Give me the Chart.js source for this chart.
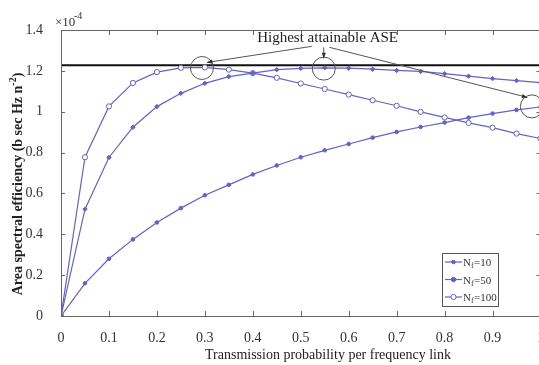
<!DOCTYPE html>
<html>
<head>
<meta charset="utf-8">
<script src="https://cdn.jsdelivr.net/npm/chart.js@4.4.1/dist/chart.umd.min.js"></script>
<style>
  html, body { margin: 0; padding: 0; overflow: hidden; background: #fff; }
  #wrap { width: 550px; height: 365px; }
</style>
</head>
<body>
<div id="wrap"><canvas id="aseChart" width="550" height="365"></canvas></div>
<script>
// Transmission probability (x) and area spectral efficiency (x1e-4) per series
const probs = [0, 0.05, 0.1, 0.15, 0.2, 0.25, 0.3, 0.35, 0.4, 0.45, 0.5,
               0.55, 0.6, 0.65, 0.7, 0.75, 0.8, 0.85, 0.9, 0.95, 1];
const nf10 = [0, 0.16, 0.28, 0.375, 0.458, 0.528, 0.591, 0.642, 0.693, 0.737, 0.777,
              0.811, 0.842, 0.873, 0.901, 0.925, 0.947, 0.971, 0.991, 1.009, 1.023];
const nf50 = [0, 0.523, 0.776, 0.924, 1.025, 1.09, 1.139, 1.172, 1.189, 1.206, 1.212,
              1.215, 1.213, 1.208, 1.202, 1.197, 1.186, 1.174, 1.162, 1.152, 1.142];
const nf100 = [0, 0.777, 1.026, 1.141, 1.194, 1.215, 1.217, 1.206, 1.189, 1.166, 1.138,
               1.111, 1.084, 1.056, 1.029, 0.999, 0.972, 0.945, 0.922, 0.893, 0.869];
const seriesLabels = ['10', '50', '100'];
const highestASE = 1.227;
const xTicks = [0, 0.1, 0.2, 0.3, 0.4, 0.5, 0.6, 0.7, 0.8, 0.9, 1];
const yTicks = [0, 0.2, 0.4, 0.6, 0.8, 1, 1.2, 1.4];

// annotation marks, in data units
const circles = [[0.294, 1.214], [0.548, 1.211], [0.982, 1.026]];
const arrows = [[0.523, 1.320, 0.304, 1.241], [0.548, 1.315, 0.548, 1.261], [0.560, 1.315, 0.973, 1.070]];
const noteAt = [0.556, 1.359];

const blue = '#6262c8';
const serif = '"Liberation Serif", "Times New Roman", serif';

function toPoints(ys) {
  return probs.map((p, i) => ({ x: p, y: ys[i] }));
}

const pointStyles = ['circle', 'rectRot', 'circle'];
const pointFills = [blue, blue, '#fff'];
const pointSizes = [1.8, 2.2, 2.6];

function fmt(v) {
  return String(Number(v.toFixed(1)));
}

const decorPlugin = {
  id: 'decor',
  afterDraw(chart) {
    const ctx = chart.ctx;
    const { left, right, top, bottom } = chart.chartArea;
    const xs = chart.scales.x, ys = chart.scales.y;
    ctx.save();

    // box + inward ticks
    ctx.strokeStyle = '#666';
    ctx.lineWidth = 1;
    ctx.strokeRect(left + 0.5, top + 0.5, right - left, bottom - top);
    ctx.beginPath();
    xTicks.forEach(t => {
      const px = Math.round(xs.getPixelForValue(t)) + 0.5;
      ctx.moveTo(px, bottom); ctx.lineTo(px, bottom - 5);
      ctx.moveTo(px, top); ctx.lineTo(px, top + 5);
    });
    yTicks.forEach(t => {
      const py = Math.round(ys.getPixelForValue(t)) + 0.5;
      ctx.moveTo(left, py); ctx.lineTo(left + 4, py);
      ctx.moveTo(right, py); ctx.lineTo(right - 4, py);
    });
    ctx.stroke();

    // circles around the peaks
    ctx.strokeStyle = '#555';
    circles.forEach(c => {
      ctx.beginPath();
      ctx.arc(xs.getPixelForValue(c[0]), ys.getPixelForValue(c[1]), 11.5, 0, Math.PI * 2);
      ctx.stroke();
    });

    // arrows
    ctx.fillStyle = '#333';
    arrows.forEach(a => {
      const x1 = xs.getPixelForValue(a[0]), y1 = ys.getPixelForValue(a[1]);
      const x2 = xs.getPixelForValue(a[2]), y2 = ys.getPixelForValue(a[3]);
      ctx.strokeStyle = '#555';
      ctx.beginPath();
      ctx.moveTo(x1, y1); ctx.lineTo(x2, y2);
      ctx.stroke();
      const ang = Math.atan2(y2 - y1, x2 - x1);
      ctx.beginPath();
      ctx.moveTo(x2, y2);
      ctx.lineTo(x2 - 6 * Math.cos(ang - 0.35), y2 - 6 * Math.sin(ang - 0.35));
      ctx.lineTo(x2 - 6 * Math.cos(ang + 0.35), y2 - 6 * Math.sin(ang + 0.35));
      ctx.closePath();
      ctx.fill();
    });

    // annotation text
    ctx.fillStyle = '#222';
    ctx.font = '15px ' + serif;
    ctx.textAlign = 'center';
    ctx.textBaseline = 'middle';
    ctx.fillText('Highest attainable ASE', xs.getPixelForValue(noteAt[0]), ys.getPixelForValue(noteAt[1]));

    // exponent label
    ctx.textAlign = 'left';
    ctx.textBaseline = 'alphabetic';
    ctx.fillStyle = '#333';
    ctx.font = '13px ' + serif;
    ctx.fillText('\u00d710', 55, 26);
    ctx.font = '10px ' + serif;
    ctx.fillText('-4', 74, 19);

    // x axis title
    ctx.fillStyle = '#222';
    ctx.font = '14px ' + serif;
    ctx.textAlign = 'center';
    ctx.textBaseline = 'middle';
    ctx.fillText('Transmission probability per frequency link', 328, 355);

    // y axis title, rotated, with superscript
    ctx.save();
    ctx.translate(17, 184);
    ctx.rotate(-Math.PI / 2);
    const main = 'Area spectral efficiency (b sec Hz n';
    ctx.font = 'bold 14px ' + serif;
    const w1 = ctx.measureText(main).width;
    ctx.font = 'bold 10px ' + serif;
    const w2 = ctx.measureText('-2').width;
    ctx.font = 'bold 14px ' + serif;
    const w3 = ctx.measureText(')').width;
    let x0 = -(w1 + w2 + w3) / 2;
    ctx.textAlign = 'left';
    ctx.textBaseline = 'alphabetic';
    ctx.fillText(main, x0, 5);
    ctx.font = 'bold 10px ' + serif;
    ctx.fillText('-2', x0 + w1, -1);
    ctx.font = 'bold 14px ' + serif;
    ctx.fillText(')', x0 + w1 + w2, 5);
    ctx.restore();

    // legend box
    const lx = 442, ly = 253, lw = 56, lh = 53;
    ctx.fillStyle = '#fff';
    ctx.fillRect(lx, ly, lw, lh);
    ctx.strokeStyle = '#555';
    ctx.strokeRect(lx + 0.5, ly + 0.5, lw, lh);
    seriesLabels.forEach((lab, i) => {
      const ry = 262 + i * 17.5;
      ctx.strokeStyle = blue;
      ctx.lineWidth = 1.2;
      ctx.beginPath();
      ctx.moveTo(445, ry); ctx.lineTo(462, ry);
      ctx.stroke();
      ctx.lineWidth = 1;
      ctx.fillStyle = pointFills[i];
      ctx.beginPath();
      ctx.arc(453.5, ry, pointSizes[i], 0, Math.PI * 2);
      ctx.fill();
      ctx.stroke();
      ctx.fillStyle = '#333';
      ctx.textAlign = 'left';
      ctx.textBaseline = 'alphabetic';
      ctx.font = '11px ' + serif;
      ctx.fillText('N', 463, ry + 4);
      const nw = ctx.measureText('N').width;
      ctx.font = '8px ' + serif;
      ctx.fillText('f', 463 + nw, ry + 6);
      const fw = ctx.measureText('f').width;
      ctx.font = '11px ' + serif;
      ctx.fillText('=' + lab, 463 + nw + fw + 0.5, ry + 4);
    });

    ctx.restore();
  }
};

const ctx = document.getElementById('aseChart').getContext('2d');
const aseChart = new Chart(ctx, {
  type: 'line',
  data: {
    datasets: [
      [nf10, 0], [nf50, 1], [nf100, 2]
    ].map(([ys, i]) => ({
      label: 'Nf=' + seriesLabels[i],
      data: toPoints(ys),
      borderColor: blue,
      borderWidth: 1.2,
      backgroundColor: pointFills[i],
      pointBackgroundColor: pointFills[i],
      pointBorderColor: blue,
      pointBorderWidth: 1,
      pointStyle: pointStyles[i],
      pointRadius: pointSizes[i],
      tension: 0,
      fill: false
    })).concat([{
      label: 'Highest attainable ASE',
      data: [{ x: 0, y: highestASE }, { x: 1, y: highestASE }],
      borderColor: '#111',
      borderWidth: 2,
      pointRadius: 0,
      fill: false
    }])
  },
  options: {
    responsive: false,
    animation: false,
    layout: { padding: { top: 30, right: 9, left: 0, bottom: 0 } },
    plugins: {
      legend: { display: false },
      tooltip: { enabled: false }
    },
    scales: {
      x: {
        type: 'linear',
        min: 0,
        max: 1,
        grid: { display: false },
        border: { display: false },
        ticks: {
          stepSize: 0.1,
          maxRotation: 0,
          padding: 6,
          color: '#333',
          font: { family: serif, size: 14 },
          callback: v => fmt(v)
        },
        afterFit: s => { s.height = 49; }
      },
      y: {
        min: 0,
        max: 1.4,
        grid: { display: false },
        border: { display: false },
        ticks: {
          stepSize: 0.2,
          padding: 10,
          color: '#333',
          font: { family: serif, size: 14 },
          callback: v => fmt(v)
        },
        afterFit: s => { s.width = 61; }
      }
    }
  },
  plugins: [decorPlugin]
});
</script>
</body>
</html>
